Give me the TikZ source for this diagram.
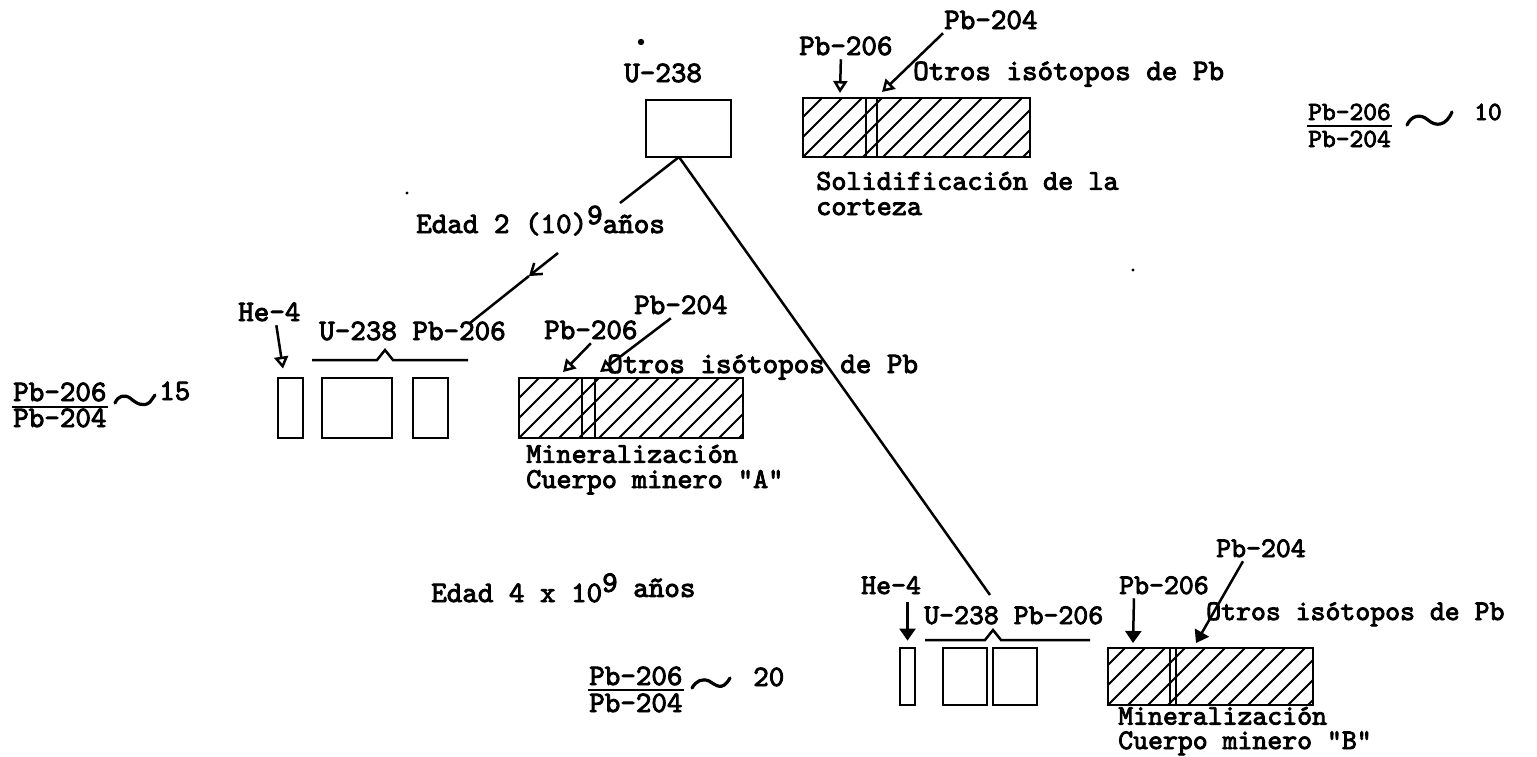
\documentclass[tikz,border=0pt]{standalone}
\usepackage{fontspec}
\setmonofont{lmmono10-regular.otf}[FakeBold=3]
\usetikzlibrary{arrows.meta}
\tikzset{
  every picture/.style={line width=1.25pt, x=0.5pt, y=-0.5pt},
  lbl/.style={inner sep=0pt, anchor=base west, text height=9pt, text depth=0.5pt,
    font=\ttfamily\fontsize{14.8}{16}\selectfont},
  lblb/.style={lbl, font=\ttfamily\fontsize{14.2}{16}\selectfont},
  lbls/.style={lbl, font=\ttfamily\fontsize{13.1}{15}\selectfont},
  lbl2/.style={inner sep=0pt, anchor=base west, align=left,
    font=\ttfamily\fontsize{14.4}{12.6}\selectfont},
  lbl2b/.style={lbl2, font=\ttfamily\fontsize{14.2}{12.2}\selectfont},
  boxn/.style={draw, inner sep=0pt, line width=1.4pt},
  hbar/.style={draw, inner sep=0pt, line width=1.4pt,
    path picture={\foreach \k in {0,20,...,340}
      \draw[line width=1pt] ([xshift=\k*0.5pt-40pt]path picture bounding box.south west) -- ++(38pt,38pt);}},
  oarr/.style={-{Triangle[open,length=6pt,width=7pt]}},
  farr/.style={-{Triangle[length=6pt,width=8pt]}},
  wavy/.style={line width=1.6pt, line cap=round}
}
\begin{document}
\begin{tikzpicture}
\useasboundingbox (0,0) rectangle (1537,756);

% stray dots
\fill (641,42) circle (1.6pt);
\fill (407,193) circle (0.8pt);
\fill (1133,270) circle (0.8pt);

% ---------- top ----------
\node[lbl] (tU) at (623,82) {U-238};
\node[boxn, minimum width=42.5pt, minimum height=28.5pt] (u) at (688.5,128.5) {};
\node[hbar, minimum width=113.5pt, minimum height=29.5pt] (barT) at (916.5,127.5) {};
\draw[line width=1.4pt] (866,98) -- (866,157) (877,98) -- (877,157);
\node[lbl] (t206) at (798,55) {Pb-206};
\node[lbl] (t204) at (943,29) {Pb-204};
\node[lbl] (tO) at (912,80) {Otros isótopos de Pb};
\node[lbl2] (tS) at (815,215) {Solidificación de la\\corteza};
\coordinate (tipT206) at (840,93);
\coordinate (tipT204) at (882,92);
\draw[oarr] ([xshift=-2.5pt,yshift=-1pt]t206.south) -- (tipT206);
\draw[oarr] ([yshift=-1pt]t204.south west) -- (tipT204);

% right ratio
\node[lbls] (r1n) at (1307,120) {Pb-206};
\node[lbls] (r1d) at (1307,147) {Pb-204};
\draw (r1n.south west |- 0,126) -- (r1n.south east |- 0,126);
\draw[wavy] (1407,125) .. controls (1411,116) and (1420,113) .. (1428,120) .. controls (1436,127) and (1446,126) .. (1452,112);
\node[lbls] (r1v) at (1473,120) {10};

% age label 1
\node[lbl] (edad1) at (415,233) {Edad 2 (10)\raisebox{0.7ex}{9}años};

% connectors from U-238
\coordinate (apex) at (679,157);
\coordinate (gA1) at (620,203);
\coordinate (gA2) at (558,253);
\coordinate (mA) at (529,276);
\coordinate (endA) at (470,323);
\coordinate (endB) at (990,595);
\draw (apex) -- (gA1);
\draw[-{Straight Barb[length=5pt,width=7pt]}] (gA2) -- (mA);
\draw (mA) -- (endA);
\draw (apex) -- (endB);

% ---------- group A ----------
\node[lbl] (heA) at (237,321) {He-4};
\node[boxn, minimum width=12.5pt, minimum height=30pt] (a1) at (290.5,408) {};
\node[boxn, minimum width=35pt, minimum height=30pt] (a2) at (357,408) {};
\node[boxn, minimum width=17.5pt, minimum height=30pt] (a3) at (430.5,408) {};
\draw[oarr] ([xshift=3.5pt,yshift=-1pt]heA.south) -- ([yshift=4pt]a1.north -| 283,0);
\node[lbl] (aUP) at (318,340) {U-238 Pb-206};
\coordinate (brA1) at (312,360);
\coordinate (brA2) at (468,360);
\draw (brA1) -- (377,360) -- (385,350) -- (393,360) -- (brA2);
\node[hbar, minimum width=112pt, minimum height=30pt] (barA) at (631,408) {};
\draw[line width=1.4pt] (582,378) -- (582,438) (595,378) -- (595,438);
\node[lbl] (a206) at (543,339) {Pb-206};
\node[lbl] (a204) at (633,314) {Pb-204};
\node[lbl] (aO) at (606,373) {Otros isótopos de Pb};
\coordinate (tipA206) at (563,372);
\coordinate (tipA204) at (600,372);
\draw[oarr] ([yshift=-1pt]a206.south) -- (tipA206);
\draw[oarr] ([xshift=-5pt,yshift=-1pt]a204.south) -- (tipA204);
\node[lbl2] (aM) at (525,488) {Mineralización\\Cuerpo minero "A"};

% left ratio
\node[lbl] (r2n) at (12,401) {Pb-206};
\node[lbl] (r2d) at (12,427) {Pb-204};
\draw (r2n.south west |- 0,407) -- (r2n.south east |- 0,407);
\draw[wavy] (115,403) .. controls (118,396) and (124,394) .. (130,398) .. controls (136,403) and (143,408) .. (150,402) -- (155,395);
\node[lbl] (r2v) at (158,400) {15};

% ---------- middle ----------
\node[lbl] (edad2) at (430,602) {Edad 4 x 10\raisebox{0.8ex}{9} \raisebox{0.4ex}{años}};
\node[lbl] (r3n) at (588,685) {Pb-206};
\node[lbl] (r3d) at (588,712) {Pb-204};
\draw (r3n.south west |- 0,690) -- (r3n.south east |- 0,690);
\draw[wavy] (692,688) .. controls (696,681) and (702,678) .. (709,681) .. controls (716,685) and (722,692) .. (730,678);
\node[lbl] (r3v) at (752,686) {20};

% ---------- group B ----------
\node[lblb] (heB) at (860,594) {He-4};
\node[boxn, minimum width=7.5pt, minimum height=28.5pt] (b1) at (907.5,676.5) {};
\node[boxn, minimum width=22pt, minimum height=28.5pt] (b2) at (965,676.5) {};
\node[boxn, minimum width=22pt, minimum height=28.5pt] (b3) at (1015,676.5) {};
\draw[farr] (heB.south -| b1.north) ++(0,-3pt) -- ([yshift=3pt]b1.north);
\node[lblb] (bUP) at (923,624) {U-238 Pb-206};
\coordinate (brB1) at (925,640);
\coordinate (brB2) at (1090,640);
\draw (brB1) -- (985,640) -- (993,630) -- (1001,640) -- (brB2);
\node[hbar, minimum width=102.5pt, minimum height=28.5pt] (barB) at (1210.5,676.5) {};
\draw[line width=1.4pt] (1170,648) -- (1170,705) (1176,648) -- (1176,705);
\node[lblb] (b206) at (1118,594) {Pb-206};
\node[lblb] (b204) at (1215,557) {Pb-204};
\node[lblb] (bO) at (1205,620) {Otros isótopos de Pb};
\coordinate (tipB206) at (1133,643);
\coordinate (tipB204) at (1196,643);
\draw[farr] ([xshift=-15pt,yshift=-1pt]b206.south) -- (tipB206);
\draw[farr] ([xshift=-9pt,yshift=-1pt]b204.south) -- (tipB204);
\node[lbl2b] (bM) at (1117,749) {Mineralización\\Cuerpo minero "B"};
\end{tikzpicture}
\end{document}
